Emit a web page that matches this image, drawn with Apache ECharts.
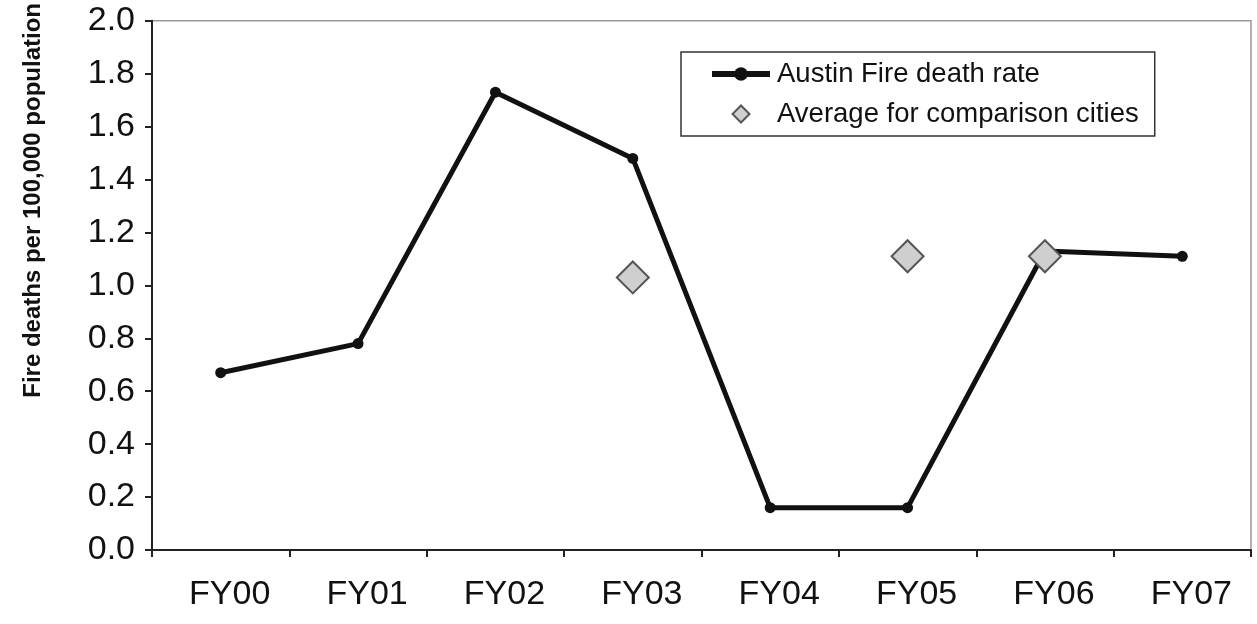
<!DOCTYPE html>
<html>
<head>
<meta charset="utf-8">
<script src="https://cdn.jsdelivr.net/npm/echarts@6/dist/echarts.min.js"></script>
<style>
html,body{margin:0;padding:0;background:#fff;}
#chart{width:1257px;height:624px;}
</style>
</head>
<body>
<div id="chart"></div>
<script>
const categories = ['FY00','FY01','FY02','FY03','FY04','FY05','FY06','FY07'];
const austinRate = [0.67, 0.78, 1.73, 1.48, 0.16, 0.16, 1.13, 1.11];
const comparisonAvg = [null, null, null, 1.03, null, 1.11, 1.11, null];
const yTicks = ['0.0','0.2','0.4','0.6','0.8','1.0','1.2','1.4','1.6','1.8','2.0'];
const seriesNames = ['Austin Fire death rate', 'Average for comparison cities'];
const yTitle = 'Fire deaths per 100,000 population';

const chart = echarts.init(document.getElementById('chart'));
const FONT = '"Liberation Sans", Arial, sans-serif';
chart.setOption({
  animation: false,
  backgroundColor: '#fff',
  grid: {
    left: 152, right: 6, top: 20, bottom: 74,
    show: true, borderColor: '#999', borderWidth: 1.5, backgroundColor: 'transparent'
  },
  legend: {
    orient: 'vertical',
    left: 681, top: 52,
    padding: [8, 16, 8, 28],
    borderColor: '#333', borderWidth: 1.5,
    backgroundColor: '#fff',
    itemWidth: 58, itemHeight: 17, itemGap: 12,
    symbolKeepAspect: true,
    textStyle: { fontFamily: FONT, fontSize: 27.5, color: '#111', padding: [0, 0, 0, 2] },
    data: [
      { name: seriesNames[0], lineStyle: { width: 6, color: '#111' } },
      { name: seriesNames[1], icon: 'path://M0,-10L10,0L0,10L-10,0Z' }
    ]
  },
  xAxis: {
    type: 'category',
    data: categories,
    boundaryGap: true,
    axisLine: { lineStyle: { color: '#222', width: 2 } },
    axisTick: { show: true, alignWithLabel: false, length: 7, lineStyle: { color: '#222', width: 2 } },
    axisLabel: { fontFamily: FONT, fontSize: 34, color: '#111', margin: 28, padding: [0, 0, 0, 18] },
    splitLine: { show: false }
  },
  yAxis: {
    type: 'value',
    min: 0, max: 2, interval: 0.2,
    name: yTitle,
    nameLocation: 'middle',
    nameGap: 107,
    nameRotate: 90,
    nameTextStyle: { fontFamily: FONT, fontSize: 24, fontWeight: 'bold', color: '#111', padding: [0, 0, 0, 170] },
    axisLine: { show: true, lineStyle: { color: '#222', width: 2 } },
    axisTick: { show: true, inside: false, length: 7, lineStyle: { color: '#222', width: 2 } },
    axisLabel: {
      fontFamily: FONT, fontSize: 34, color: '#111', margin: 17,
      formatter: function (v) { return yTicks[Math.round(v / 0.2)]; }
    },
    splitLine: { show: false }
  },
  series: [
    {
      name: seriesNames[0],
      type: 'line',
      data: austinRate,
      symbol: 'circle',
      symbolSize: 11,
      lineStyle: { color: '#111', width: 5 },
      itemStyle: { color: '#111' },
      z: 2
    },
    {
      name: seriesNames[1],
      type: 'scatter',
      data: comparisonAvg,
      symbol: 'diamond',
      symbolSize: 32,
      itemStyle: { color: '#cfcfcf', borderColor: '#555', borderWidth: 2, opacity: 1 },
      z: 3
    }
  ]
});
</script>
</body>
</html>
